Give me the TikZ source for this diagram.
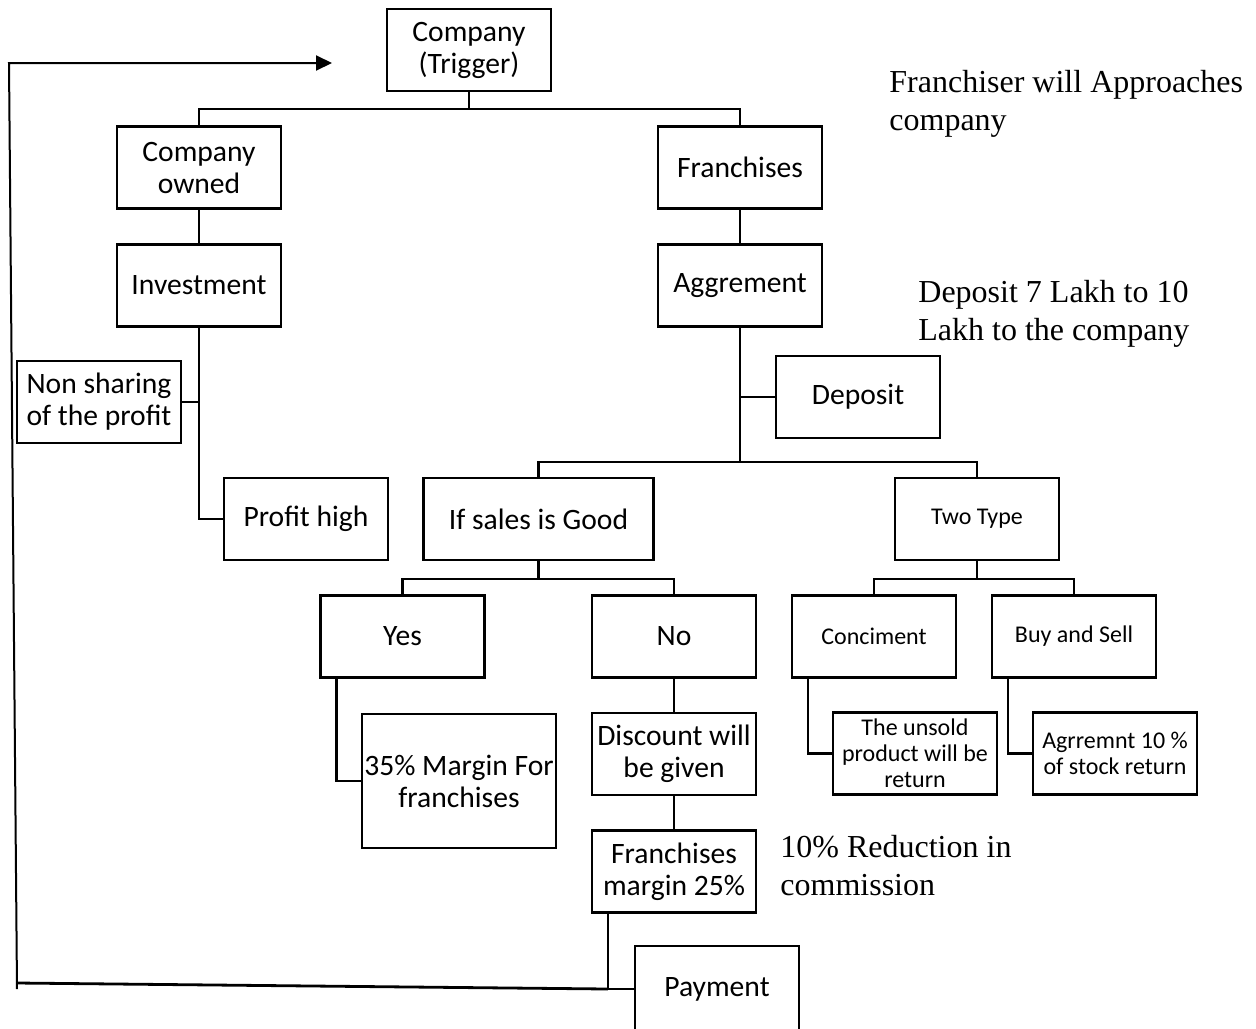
\documentclass[tikz,border=0pt]{standalone}
\usepackage{fontspec}
\setmainfont{Carlito}
\newfontfamily\notefont{Liberation Serif}
\usetikzlibrary{arrows.meta,calc}

\tikzset{
  flow box/.style={draw=black,line width=1.2pt,minimum width=82pt,minimum height=41pt,
    inner sep=1pt,align=center,font=\fontsize{14.8}{16}\selectfont},
  flow small/.style={flow box,inner sep=1pt,font=\fontsize{12}{13}\selectfont},
  flow link/.style={line width=1.2pt},
  flow back/.style={line width=1pt},
  flow note/.style={anchor=west,inner sep=0pt,align=left,font=\notefont\fontsize{16}{19}\selectfont}
}

\begin{document}
\begin{tikzpicture}[x=0.5pt,y=-0.5pt]
  \useasboundingbox (0,0) rectangle (1256,1028);

  % boxes
  \node[flow box] (trig) at (469,50) {Company\\(Trigger)};
  \node[flow box] (cown) at (199,167.5) {Company\\owned};
  \node[flow box] (fran) at (740,167.5) {Franchises};
  \node[flow box] (inv) at (199,285.5) {Investment};
  \node[flow box] (agr) at (740,285.5) {Aggrement};
  \node[flow box] (nonsh) at (99,402) {Non sharing\\of the profit};
  \node[flow box] (depo) at (858,397) {Deposit};
  \node[flow box] (phigh) at (306,519) {Profit high};
  \node[flow box,minimum width=115pt] (sales) at (538.5,519) {If sales is Good};
  \node[flow small] (two) at (977,519) {Two Type};
  \node[flow box] (yes) at (402.5,636.5) {Yes};
  \node[flow box] (no) at (674,636.5) {No};
  \node[flow small] (conc) at (874,636.5) {Conciment};
  \node[flow small] (buy) at (1074,636.5) {Buy and Sell};
  \node[flow box,minimum width=97pt,minimum height=67pt] (marg) at (459,781) {35\% Margin For\\franchises};
  \node[flow box] (disc) at (674,754) {Discount will\\be given};
  \node[flow small] (unsold) at (915,753.5) {The unsold\\product will be\\return};
  \node[flow small] (agrr) at (1115,753.5) {Agrremnt 10 \%\\of stock return};
  \node[flow box] (fmarg) at (674,871.5) {Franchises\\margin 25\%};
  \node[flow box,minimum height=43pt] (pay) at (717,989) {Payment};

  % notes
  \node[flow note] (note1) at (889,104) {Franchiser will Approaches\\company};
  \node[flow note] (note2) at (918,314) {Deposit 7 Lakh to 10\\Lakh to the company};
  \node[flow note] (note3) at (780,866) {10\% Reduction in\\commission};

  % tree links
  \draw[flow link] (trig.south) -- ++(0,17) coordinate (topbar);
  \draw[flow link] (cown.north) |- (topbar) -| (fran.north);
  \draw[flow link] (cown) -- (inv);
  \draw[flow link] (inv.south) |- (phigh.west);
  \draw[flow link] (nonsh.east) -- (nonsh.east -| inv.south);
  \draw[flow link] (fran) -- (agr);
  \draw[flow link] (agr.south) -- ++(0,134) coordinate (midbar);
  \draw[flow link] (depo.west) -- (depo.west -| agr.south);
  \draw[flow link] (sales.north) |- (midbar) -| (two.north);
  \draw[flow link] (sales.south) -- ++(0,18) coordinate (salesbar);
  \draw[flow link] (yes.north) |- (salesbar) -| (no.north);
  \draw[flow link] (two.south) -- ++(0,18) coordinate (typebar);
  \draw[flow link] (conc.north) |- (typebar) -| (buy.north);
  \draw[flow link] ($(yes.south west)+(17,0)$) |- (marg.west);
  \draw[flow link] (no) -- (disc);
  \draw[flow link] (disc) -- (fmarg);
  \draw[flow link] ($(conc.south west)+(17,0)$) |- (unsold.west);
  \draw[flow link] ($(buy.south west)+(17,0)$) |- (agrr.west);

  % back to the company
  \coordinate (fmdrop) at ($(fmarg.south west)+(17,0)$);
  \coordinate (payturn) at (fmdrop |- pay.west);
  \coordinate (loopbl) at (17,983);
  \coordinate (loopfoot) at (17,989);
  \coordinate (looptl) at (9,63);
  \coordinate (looptip) at (332,63);
  \draw[flow link] (fmdrop) -- (payturn) -- (pay.west);
  \draw[flow back,line width=1.4pt] (payturn) -- (loopbl);
  \draw[flow back,-{Triangle[length=8pt,width=7.5pt]}] (loopfoot) -- (looptl) -- (looptip);
\end{tikzpicture}
\end{document}
